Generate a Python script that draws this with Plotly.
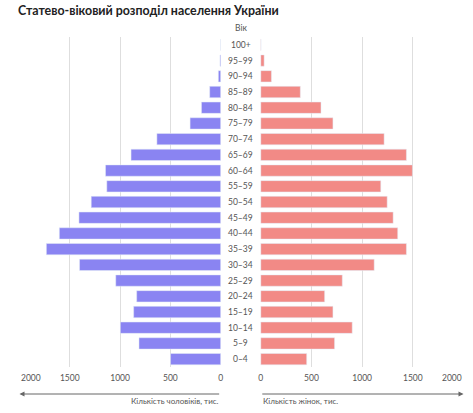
import plotly.graph_objects as go

age_groups = ["0–4", "5–9", "10–14", "15–19", "20–24", "25–29", "30–34", "35–39",
              "40–44", "45–49", "50–54", "55–59", "60–64", "65–69", "70–74", "75–79",
              "80–84", "85–89", "90–94", "95–99", "100+"]
men = [498, 812, 997, 865, 835, 1043, 1403, 1733, 1604, 1409, 1287, 1132, 1145,
       891, 634, 304, 191, 109, 23, 7, 1]
women = [453, 728, 902, 712, 630, 804, 1119, 1437, 1351, 1306, 1247, 1184, 1496,
         1437, 1217, 712, 594, 390, 105, 33, 2]
x_ticks = [0, 500, 1000, 1500, 2000]

title_text = "Статево-віковий розподіл населення України"
age_title = "Вік"
men_title = "Кількість чоловіків, тис."
women_title = "Кількість жінок, тис."

MEN_COLOR = "#8a84f2"
WOMEN_COLOR = "#f28a86"
GRID = "#dedede"
TXT = "#555555"
FONT = "Lato"

W, H = 473, 413
ml, mr, mt, mb = 19, 9, 37, 46
left_dom = [0, 0.4543]
right_dom = [0.5422, 1]
x_max = x_ticks[-1]
pad = 5  # tiny range padding so edge grid lines are drawn

fig = go.Figure()
fig.add_trace(go.Bar(y=age_groups, x=men, orientation="h", marker_color=MEN_COLOR,
                     xaxis="x", yaxis="y", showlegend=False, hoverinfo="x+y"))
fig.add_trace(go.Bar(y=age_groups, x=women, orientation="h", marker_color=WOMEN_COLOR,
                     xaxis="x2", yaxis="y2", showlegend=False, hoverinfo="x+y"))

tick_font = dict(family=FONT, size=8.5, color=TXT)
inner_ticks = x_ticks[:-1]
axis_common = dict(tickvals=x_ticks,
                   ticktext=[str(v) for v in inner_ticks] + [""],
                   showgrid=True, gridcolor=GRID, gridwidth=1, zeroline=False,
                   showline=False, ticks="", tickfont=tick_font, ticklabelstandoff=4,
                   automargin=False, fixedrange=True)
fig.update_layout(
    width=W, height=H, autosize=False,
    margin=dict(l=ml, r=mr, t=mt, b=mb, pad=0, autoexpand=False),
    paper_bgcolor="white", plot_bgcolor="white",
    bargap=0.28,
    xaxis=dict(domain=left_dom, range=[x_max + pad, -pad], anchor="y", **axis_common),
    xaxis2=dict(domain=right_dom, range=[-pad, x_max + pad], anchor="y2", **axis_common),
    yaxis=dict(domain=[0, 1], anchor="x", showticklabels=False, showgrid=False,
               zeroline=False, ticks="", categoryorder="array", categoryarray=age_groups,
               range=[-0.5, len(age_groups) - 0.5], automargin=False),
    yaxis2=dict(domain=[0, 1], anchor="x2", showticklabels=False, showgrid=False,
                zeroline=False, ticks="", categoryorder="array", categoryarray=age_groups,
                range=[-0.5, len(age_groups) - 0.5], automargin=False),
    title=dict(text="<b>" + title_text + "</b>", x=18 / W, xanchor="left", xref="container",
               y=1 - 11 / H, yanchor="middle", yref="container",
               font=dict(family=FONT, size=12.4, color="#222222")),
    font=dict(family=FONT),
)

plot_h = H - mt - mb
mid_x = (left_dom[1] + right_dom[0]) / 2

annotations = []
for g in age_groups:
    annotations.append(dict(text=g, x=mid_x, xref="paper", y=g, yref="y",
                            showarrow=False, xanchor="center", yanchor="middle",
                            font=dict(family=FONT, size=8.5, color=TXT)))
annotations.append(dict(text=age_title, x=mid_x, xref="paper", y=1 + 9 / plot_h, yref="paper",
                        showarrow=False, xanchor="center", yanchor="middle",
                        font=dict(family=FONT, size=8.5, color=TXT)))
# edge tick labels aligned inward, as in the reference
tick_y = -11 / plot_h
annotations.append(dict(text=str(x_max), x=x_max, xref="x", y=tick_y, yref="paper",
                        showarrow=False, xanchor="left", yanchor="middle",
                        font=tick_font, borderpad=0))
annotations.append(dict(text=str(x_max), x=x_max, xref="x2", y=tick_y, yref="paper",
                        showarrow=False, xanchor="right", yanchor="middle",
                        font=tick_font, borderpad=0))
arrow_y = -27 / plot_h
annotations.append(dict(text="", x=x_max, xref="x", y=arrow_y, yref="paper",
                        ax=0, axref="x", ay=0, ayref="pixel", showarrow=True,
                        arrowhead=2, arrowsize=1, arrowwidth=1, arrowcolor="#666666"))
annotations.append(dict(text="", x=x_max, xref="x2", y=arrow_y, yref="paper",
                        ax=0, axref="x2", ay=0, ayref="pixel", showarrow=True,
                        arrowhead=2, arrowsize=1, arrowwidth=1, arrowcolor="#666666"))
title_y = -34 / plot_h
annotations.append(dict(text=men_title, x=0, xref="x", y=title_y, yref="paper",
                        showarrow=False, xanchor="right", yanchor="middle",
                        font=dict(family=FONT, size=8, color=TXT)))
annotations.append(dict(text=women_title, x=0, xref="x2", y=title_y, yref="paper",
                        showarrow=False, xanchor="left", yanchor="middle",
                        font=dict(family=FONT, size=8, color=TXT)))
fig.update_layout(annotations=annotations)

fig.write_html("out.html")
